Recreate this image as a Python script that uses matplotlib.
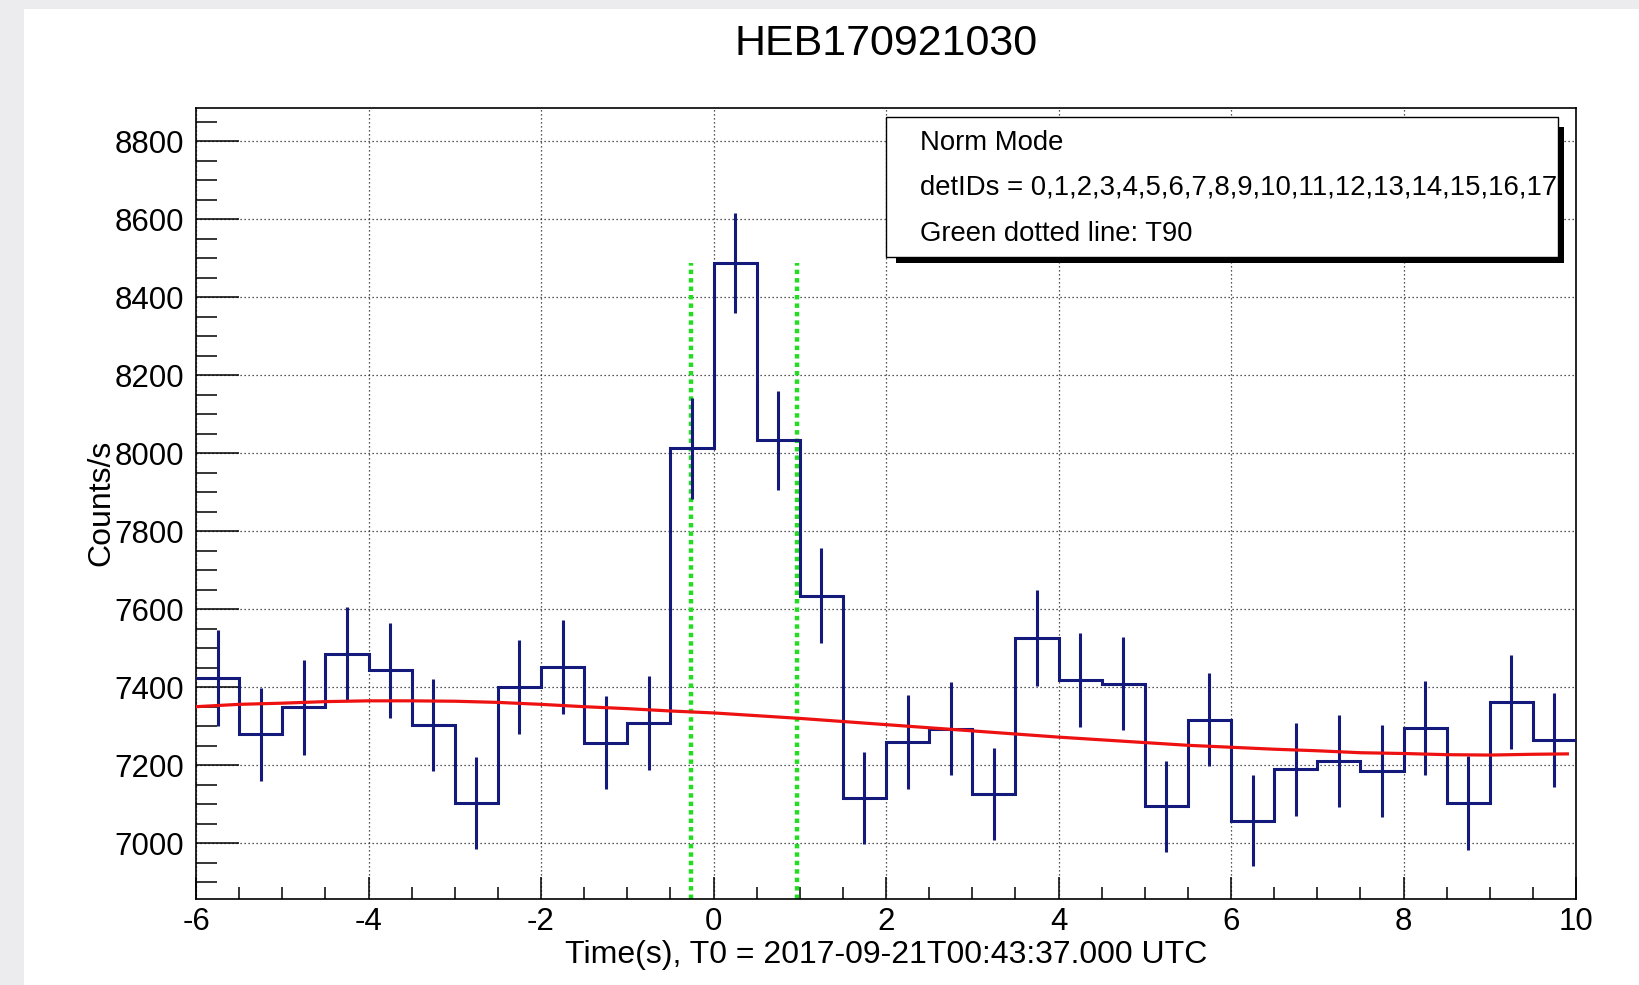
import numpy as np
import matplotlib
matplotlib.use("Agg")
import matplotlib.pyplot as plt
from matplotlib.patches import Rectangle
from matplotlib.ticker import MultipleLocator

plt.rcParams['font.family'] = ['Liberation Sans', 'DejaVu Sans']
plt.rcParams['axes.unicode_minus'] = False

# light curve, 0.5 s bins from -6 s to 10 s
bin_lo, bin_hi, bin_width = -6.0, 10.0, 0.5
rate = [7424, 7279, 7348, 7486, 7443, 7302, 7104, 7400, 7451, 7258, 7308,
        8012, 8487, 8033, 7635, 7116, 7259, 7294, 7126, 7526, 7419, 7409,
        7095, 7317, 7058, 7189, 7211, 7184, 7295, 7103, 7362, 7264]
rate_err = [123, 119, 121, 120, 121, 118, 118, 120, 120, 120, 121,
            130, 128, 127, 122, 117, 120, 120, 118, 124, 120, 120,
            117, 120, 117, 120, 118, 118, 120, 120, 121, 120]

# fitted background
bkg_t = [-6.0, -5.5, -5.0, -4.5, -4.0, -3.5, -3.0, -2.5, -2.0, -1.5, -1.0,
         -0.5, 0.0, 0.5, 1.0, 1.5, 2.0, 2.5, 3.0, 3.5, 4.0, 4.5, 5.0, 5.5,
         6.0, 6.5, 7.0, 7.5, 8.0, 8.5, 9.0, 9.5, 9.9]
bkg_rate = [7350, 7356, 7359, 7363, 7365, 7365, 7364, 7361, 7356, 7350, 7345,
            7339, 7334, 7327, 7320, 7312, 7304, 7296, 7288, 7280, 7272, 7265,
            7258, 7251, 7246, 7241, 7237, 7232, 7230, 7227, 7226, 7228, 7229]

# T90 interval (green dotted lines)
t90_bounds = [-0.265, 0.965]

title = "HEB170921030"
xlabel = "Time(s), T0 = 2017-09-21T00:43:37.000 UTC"
ylabel = "Counts/s"
legend_lines = ["Norm Mode",
                "detIDs = 0,1,2,3,4,5,6,7,8,9,10,11,12,13,14,15,16,17",
                "Green dotted line: T90"]

W, H = 1639, 985


def fx(px):
    return px / W


def fy(py):
    return 1 - py / H


def main():
    rate_a = np.array(rate, dtype=float)
    err_a = np.array(rate_err, dtype=float)
    edges = np.arange(bin_lo, bin_hi + bin_width / 2, bin_width)
    centers = 0.5 * (edges[:-1] + edges[1:])

    fig = plt.figure(figsize=(W / 100, H / 100), dpi=100, facecolor='#ececef')
    # white canvas
    fig.patches.append(Rectangle((fx(24), 0), 1 - fx(24), fy(9), transform=fig.transFigure,
                                 facecolor='white', edgecolor='none', zorder=-5))

    ax = fig.add_axes([fx(196), fy(899), fx(1576) - fx(196), fy(108.3) - fy(899)])
    ymin, ymax = 6857, 8884
    ax.set_xlim(bin_lo, bin_hi)
    ax.set_ylim(ymin, ymax)

    blue = '#141a7c'
    ax.stairs(rate_a, edges, baseline=None, color=blue, lw=2.2, zorder=3)
    ax.vlines(centers, rate_a - err_a, rate_a + err_a, color=blue, lw=2.2, zorder=3)
    ax.vlines(t90_bounds, ymin, rate_a.max(), color='#22dd22', lw=3.2,
              linestyles=[(0, (1, 0.9))], zorder=2.5)
    ax.plot(bkg_t, bkg_rate, color='#ee1111', lw=2.3, zorder=4)

    ax.xaxis.set_major_locator(MultipleLocator(2))
    ax.xaxis.set_minor_locator(MultipleLocator(0.5))
    ax.yaxis.set_major_locator(MultipleLocator(200))
    ax.yaxis.set_minor_locator(MultipleLocator(50))
    ax.grid(True, which='major', color='#222222', lw=0.9, linestyle=(0, (1, 2.2)))
    ax.set_axisbelow(True)

    ax.tick_params(axis='both', which='both', direction='in', top=False, right=False,
                   labelsize=22.5, width=1.1, color='black')
    ax.tick_params(axis='x', which='major', length=16, pad=6)
    ax.tick_params(axis='x', which='minor', length=8.6)
    ax.tick_params(axis='y', which='major', length=31, pad=8.5)
    ax.tick_params(axis='y', which='minor', length=15)
    for s in ax.spines.values():
        s.set_linewidth(1.2)

    fig.text(fx(886), fy(44), title, ha='center', va='center', fontsize=31)
    fig.text(fx(886), fy(955), xlabel, ha='center', va='center', fontsize=23)
    fig.text(fx(101), fy(503), ylabel, ha='center', va='center', rotation=90, fontsize=23)

    # legend box with ROOT style shadow
    bx0, by0, bx1, by1 = 886, 117.5, 1558, 256.5
    fig.patches.append(Rectangle((fx(bx0 + 10), fy(by1 + 6.5)), fx(bx1 + 6) - fx(bx0 + 10),
                                 fy(by0 + 9) - fy(by1 + 6.5), transform=fig.transFigure,
                                 facecolor='black', edgecolor='none', zorder=5))
    fig.patches.append(Rectangle((fx(bx0), fy(by1)), fx(bx1) - fx(bx0), fy(by0) - fy(by1),
                                 transform=fig.transFigure, facecolor='white',
                                 edgecolor='black', lw=1.0, zorder=6))
    for line, ypx in zip(legend_lines, [143, 188, 234]):
        fig.text(fx(920), fy(ypx), line, ha='left', va='center', fontsize=19.8, zorder=7)

    fig.savefig('out.png', dpi=100, facecolor=fig.get_facecolor())


if __name__ == "__main__":
    main()
